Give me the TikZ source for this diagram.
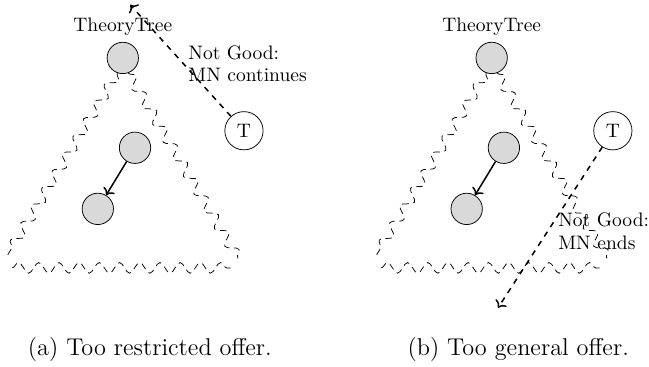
\documentclass[tikz,border=0pt]{standalone}
\usetikzlibrary{arrows.meta,positioning,decorations.pathmorphing}

\begin{document}
\begin{tikzpicture}[
    every node/.style={font=\fontsize{10.45pt}{11.8pt}\selectfont},
    gnode/.style={circle, draw, fill=gray!30, minimum size=0.59cm, inner sep=0pt},
    tnode/.style={circle, draw, minimum size=0.72cm, inner sep=0pt},
    wavy/.style={dash pattern=on 3.5pt off 2.5pt, decorate,
                 decoration={snake, amplitude=0.1cm, segment length=0.38cm}},
    probe/.style={thick, dashed, ->},
    remark/.style={align=left, anchor=west},
    caption/.style={font=\fontsize{13pt}{15.6pt}\selectfont},
]
\useasboundingbox (0,0) rectangle (12.21,-6.90);

% (a) too restricted
\node[gnode] (top) at (2.31,-1.09) {};
\node[above=0pt of top] (name) {TheoryTree};
\node[gnode] (mid) at (2.54,-2.78) {};
\node[gnode] (bot) at (1.84,-3.93) {};
\node[tnode] (T) at (4.59,-2.46) {T};
\coordinate (lt) at (0.13,-4.82);
\coordinate (lb) at (0.23,-5.04);
\coordinate (rb) at (4.42,-5.04);
\coordinate (rt) at (4.48,-4.86);
\draw[wavy] (top.-110) -- (lt);
\draw[wavy] (lb) -- (rb);
\draw[wavy] (top.-70) -- (rt);
\draw[thick, ->] (mid) -- (bot);
\coordinate (up) at (2.45,-0.09);
\draw[probe] (T) -- (up);
\node[remark] (bad) at (3.42,-1.19) {Not Good:\\MN continues};
\node[caption] (capa) at (2.82,-6.58) {(a) Too restricted offer.};

% (b) too general
\begin{scope}[xshift=6.94cm]
\node[gnode] (top2) at (2.31,-1.09) {};
\node[above=0pt of top2] (name2) {TheoryTree};
\node[gnode] (mid2) at (2.54,-2.78) {};
\node[gnode] (bot2) at (1.84,-3.93) {};
\node[tnode] (T2) at (4.59,-2.46) {T};
\coordinate (lt2) at (0.13,-4.82);
\coordinate (lb2) at (0.23,-5.04);
\coordinate (rb2) at (4.42,-5.04);
\coordinate (rt2) at (4.48,-4.86);
\draw[wavy] (top2.-110) -- (lt2);
\draw[wavy] (lb2) -- (rb2);
\draw[wavy] (top2.-70) -- (rt2);
\draw[thick, ->] (mid2) -- (bot2);
\coordinate (down) at (2.43,-5.79);
\draw[probe] (T2) -- (down);
\node[remark] (bad2) at (3.44,-4.35) {Not Good:\\MN ends};
\node[caption] (capb) at (2.81,-6.58) {(b) Too general offer.};
\end{scope}
\end{tikzpicture}
\end{document}
